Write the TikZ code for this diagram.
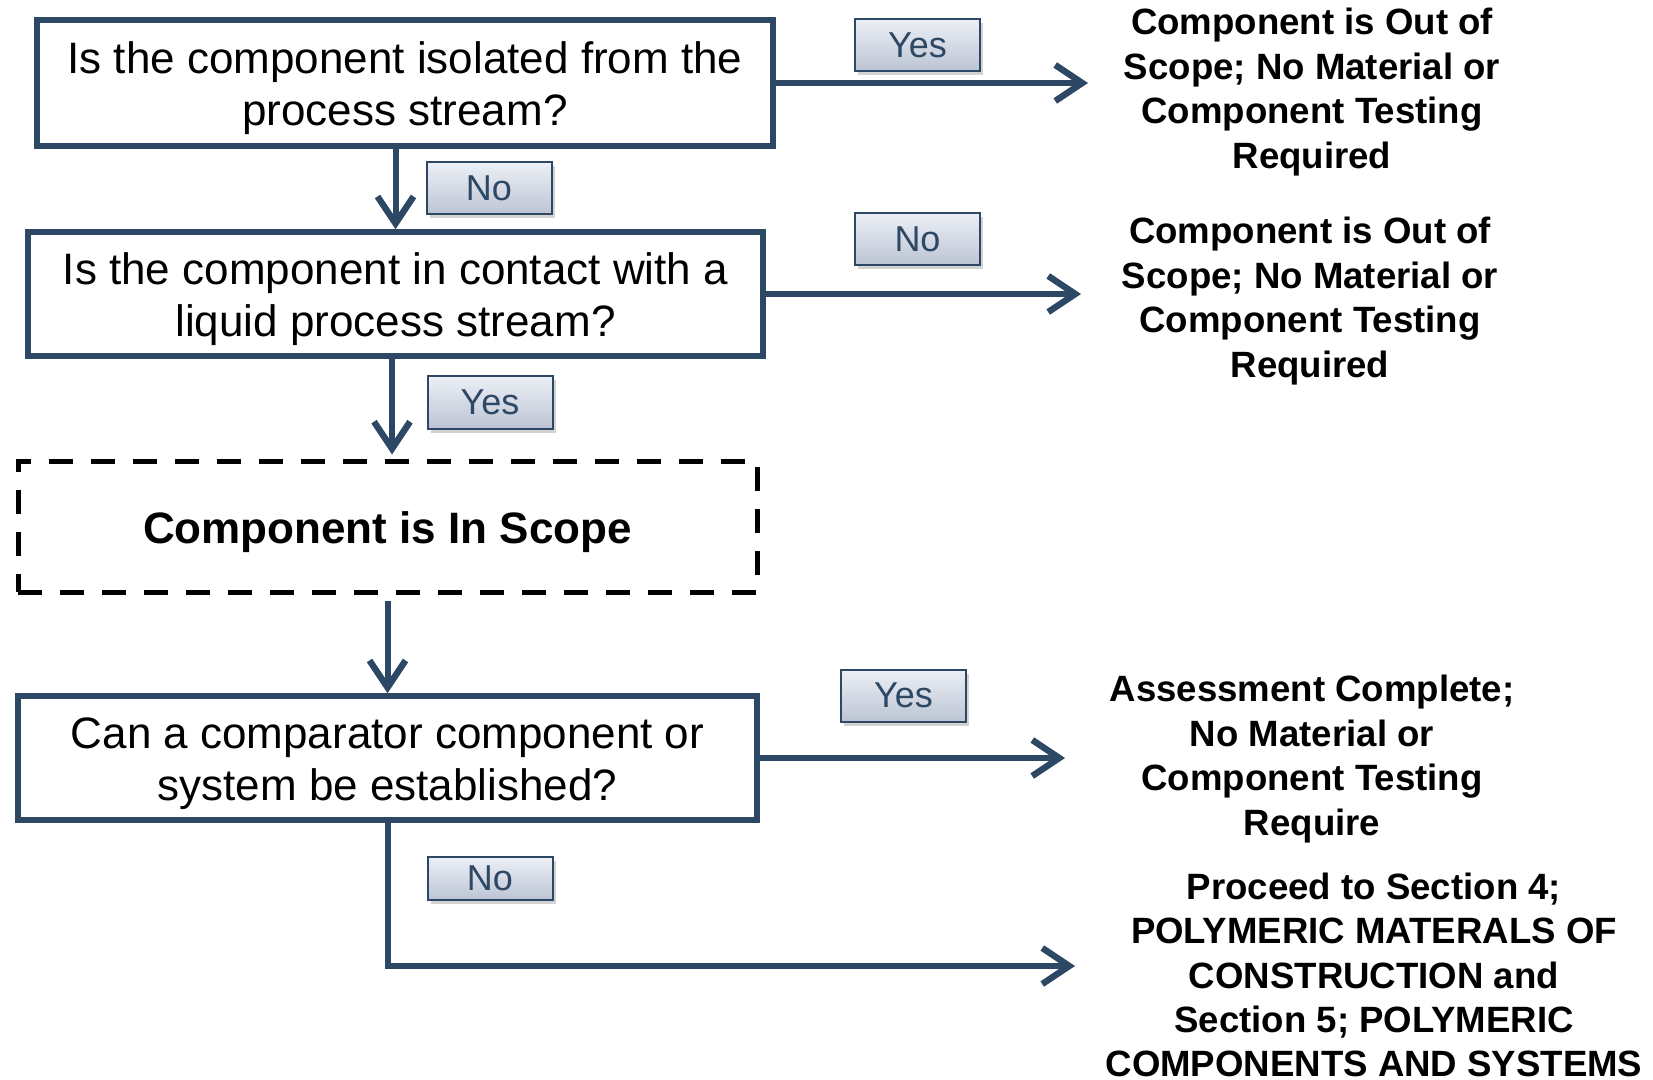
\documentclass[tikz,border=0pt]{standalone}
\usepackage{fontspec}
\setmainfont{Liberation Sans}
\usepackage{tikz}
\usetikzlibrary{arrows.meta,positioning,shadows,calc}

\definecolor{flowblue}{RGB}{44,72,100}
\definecolor{tagtop}{RGB}{236,239,245}
\definecolor{tagbottom}{RGB}{188,196,212}
\newcommand{\qlift}{\rule{0pt}{21.5pt}}

\tikzset{
	question/.style={draw=flowblue, line width=2.75pt, fill=white, align=center,
		inner sep=0pt, font=\fontsize{22}{26}\selectfont},
	scopebox/.style={draw=black, line width=2.5pt, dash pattern=on 12pt off 9pt,
		align=center, inner sep=0pt, font=\fontsize{22}{26}\selectfont\bfseries,
		execute at begin node={\rule{0pt}{22pt}}},
	answer/.style={align=center, inner sep=0pt, font=\fontsize{18.3}{22.2}\selectfont\bfseries},
	tag/.style={draw=flowblue, line width=1pt, top color=tagtop, bottom color=tagbottom,
		text=flowblue, minimum width=62.5pt, minimum height=26pt, inner sep=0pt,
		font=\fontsize{18}{20}\selectfont,
		drop shadow={opacity=0.35, shadow xshift=1.5pt, shadow yshift=-2pt}},
	flow/.style={draw=flowblue, line width=3pt,
		-{Straight Barb[length=13.5pt,width=18pt,line width=3.2pt]}}
}

\begin{document}
\begin{tikzpicture}[x=0.5pt,y=-0.5pt]
		\useasboundingbox (0,0) rectangle (1653,1080);
		% questions on the left
		\node[question, minimum width=368pt, minimum height=63pt] (isolated) at (405,83)
			{\qlift Is the component isolated from the\\process stream?};
		\node[question, minimum width=367.5pt, minimum height=62pt] (contact) at (395.5,294)
			{\qlift Is the component in contact with a\\liquid process stream?};
		\node[scopebox, minimum width=369.5pt, minimum height=65.5pt] (inscope) at (387.5,526.5)
			{Component is In Scope};
		\node[question, minimum width=369.5pt, minimum height=62pt] (comparator) at (387.5,758)
			{\qlift Can a comparator component or\\system be established?};
		% outcomes on the right
		\node[answer] (out1) at (1312,92)
			{Component is Out of\\Scope; No Material or\\Component Testing\\Required};
		\node[answer] (out2) at (1310,301)
			{Component is Out of\\Scope; No Material or\\Component Testing\\Required};
		\node[answer] (done) at (1312,759)
			{Assessment Complete;\\No Material or\\Component Testing\\Require};
		\node[answer] (proceed) at (1374,975)
			{Proceed to Section 4;\\POLYMERIC MATERALS OF\\CONSTRUCTION and\\Section 5; POLYMERIC\\COMPONENTS AND SYSTEMS};
		\coordinate (end1) at (1088,83);
		\coordinate (end2) at (1081,294);
		\coordinate (end3) at (1065,758);
		\coordinate (end4) at (1075,966);
		% connectors
		\draw[flow] (isolated.east) -- (end1);
		\draw[flow] (isolated.south -| contact.north) -- (contact.north);
		\draw[flow] (contact.east) -- (end2);
		\draw[flow, shorten >=2pt] (contact.south -| 392,0) -- (inscope.north -| 392,0);
		\draw[flow, shorten <=3pt] (inscope.south) -- (comparator.north);
		\draw[flow] (comparator.east) -- (end3);
		\draw[flow] (comparator.south) |- (end4);
		% answer tags
		\node[tag] (yes1) at (917.5,45) {Yes};
		\node[tag] (no1) at (489,188.5) {No};
		\node[tag] (no2) at (917.5,239) {No};
		\node[tag] (yes2) at (490,402.5) {Yes};
		\node[tag] (yes3) at (903.5,695.5) {Yes};
		\node[tag, minimum height=21.5pt] (no4) at (490,878.5) {No};
\end{tikzpicture}
\end{document}
